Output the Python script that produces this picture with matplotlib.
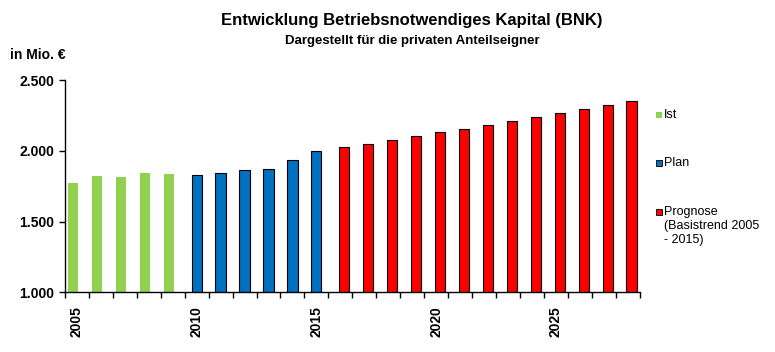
import matplotlib
matplotlib.use("Agg")
import matplotlib.pyplot as plt
from matplotlib.patches import Rectangle
import numpy as np

plt.rcParams['font.family'] = ['Liberation Sans', 'DejaVu Sans']

# values (Mio. EUR)
ist_years = [2005, 2006, 2007, 2008, 2009]
ist_values = [1770, 1819, 1812, 1840, 1833]
plan_years = [2010, 2011, 2012, 2013, 2014, 2015]
plan_values = [1831, 1845, 1866, 1873, 1937, 2000]
prognose_years = list(range(2016, 2029))
prognose_values = [2028, 2049, 2077, 2106, 2134, 2155, 2183, 2211, 2239,
                   2268, 2296, 2324, 2352]
year_labels = [2005, 2010, 2015, 2020, 2025]
y_ticks = [1000, 1500, 2000, 2500]

GREEN = '#92D050'
BLUE = '#0070C0'
RED = '#FF0000'

W, H = 775, 352
fig = plt.figure(figsize=(W / 100, H / 100), dpi=100)
ax = fig.add_axes([65 / W, 1 - 292.3 / H, (639.5 - 65) / W, (292.3 - 80) / H])

bw = 0.43
ax.bar(np.array(ist_years) - 0.17, ist_values, width=bw, color=GREEN,
       linewidth=0)
ax.bar(plan_years, plan_values, width=bw, color=BLUE,
       edgecolor='black', linewidth=0.8)
ax.bar(np.array(prognose_years) + 0.17, prognose_values, width=bw, color=RED,
       edgecolor='black', linewidth=0.8)

first, last = ist_years[0], prognose_years[-1]
ax.set_xlim(first - 0.5, last + 0.5)
ax.set_ylim(y_ticks[0], y_ticks[-1])

for s in ['top', 'right']:
    ax.spines[s].set_visible(False)
for s in ['left', 'bottom']:
    ax.spines[s].set_linewidth(1.0)

ax.set_yticks(y_ticks)
ax.set_yticklabels([f'{v:,}'.replace(',', '.') for v in y_ticks],
                   fontsize=10, fontweight='bold')
ax.tick_params(axis='y', direction='out', length=4, width=1, pad=4)

ax.set_xticks(np.arange(first - 0.5, last + 1))
ax.set_xticklabels([])
ax.tick_params(axis='x', which='major', direction='out', length=4, width=1)
ax.set_xticks(year_labels, minor=True)
ax.set_xticklabels([str(y) for y in year_labels], minor=True, rotation=90,
                   fontsize=10, fontweight='bold')
ax.tick_params(axis='x', which='minor', length=0, pad=10)

fig.text(412 / W, 1 - 21 / H, 'Entwicklung Betriebsnotwendiges Kapital (BNK)',
         ha='center', va='center', fontsize=12, fontweight='bold')
fig.text(412 / W, 1 - 41 / H, 'Dargestellt für die privaten Anteilseigner',
         ha='center', va='center', fontsize=9.5, fontweight='bold')
fig.text(10 / W, 1 - 55 / H, 'in Mio. €', ha='left', va='center',
         fontsize=10, fontweight='bold')

# legend drawn by hand to mimic the spreadsheet layout
legend_items = [
    ('Ist', GREEN, 'none', 115),
    ('Plan', BLUE, 'black', 163),
    ('Prognose\n(Basistrend 2005\n- 2015)', RED, 'black', 212),
]
for label, col, ec, yc in legend_items:
    fig.add_artist(Rectangle((656 / W, 1 - (yc + 3) / H), 6 / W, 6 / H,
                             transform=fig.transFigure, facecolor=col,
                             edgecolor=ec, linewidth=0.6))
    fig.text(664 / W, 1 - (yc - 6) / H, label, ha='left', va='top',
             fontsize=9, linespacing=1.25)

fig.savefig('out.png', dpi=100)
